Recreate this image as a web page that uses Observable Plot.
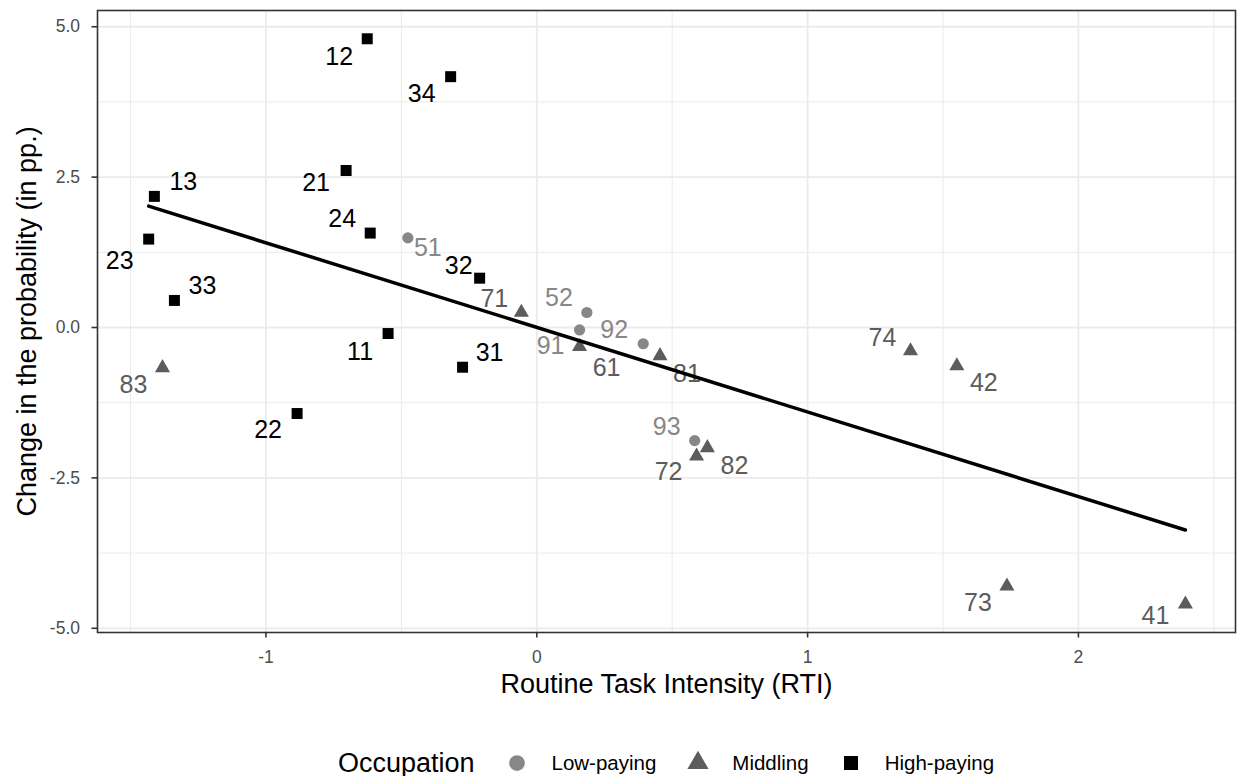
<!DOCTYPE html>
<html>
<head>
<meta charset="utf-8">
<script src="https://cdn.jsdelivr.net/npm/d3@7"></script>
<script src="https://cdn.jsdelivr.net/npm/@observablehq/plot@0.6"></script>
<style>
  body { margin: 0; background: #ffffff; font-family: "Liberation Sans", Arial, sans-serif; }
  #chart { position: relative; width: 1238px; height: 776px; background: #ffffff; }
  #legend {
    position: absolute; left: 97px; top: 740px; width: 1138px; height: 46px;
    display: flex; align-items: center; justify-content: center;
    font-family: "Liberation Sans", Arial, sans-serif; color: #000;
  }
  #legend .legend-title { font-size: 27px; margin-right: 33px; }
  #legend .occ-swatches { font-family: "Liberation Sans", Arial, sans-serif; font-size: 20.5px; margin: 0; min-height: 0; color: #000; }
  #legend .occ-swatch { margin-right: 32px; }
  #legend .occ-swatch:last-child { margin-right: 0; }
  #legend .occ-swatch > svg { margin-right: 24px; }
</style>
</head>
<body>
<div id="chart"></div>
<script>
// Occupation codes (ISCO 2-digit), their routine task intensity and the change in probability
const codes = ["11", "12", "13", "21", "22", "23", "24", "31", "32", "33", "34",
               "51", "52", "91", "92", "93",
               "61", "71", "72", "73", "74", "81", "82", "83", "41", "42"];
const rti = [-0.549, -0.626, -1.412, -0.704, -0.885, -1.433, -0.615, -0.274, -0.211, -1.338, -0.318,
             -0.476, 0.185, 0.158, 0.393, 0.583,
             0.158, -0.057, 0.590, 1.736, 1.380, 0.455, 0.630, -1.382, 2.395, 1.551];
const change = [-0.10, 4.80, 2.18, 2.61, -1.43, 1.47, 1.57, -0.66, 0.82, 0.45, 4.17,
                1.49, 0.25, -0.04, -0.27, -1.88,
                -0.32, 0.25, -2.14, -4.30, -0.39, -0.47, -2.00, -0.67, -4.60, -0.64];
const occupation = ["High-paying", "High-paying", "High-paying", "High-paying", "High-paying", "High-paying",
                    "High-paying", "High-paying", "High-paying", "High-paying", "High-paying",
                    "Low-paying", "Low-paying", "Low-paying", "Low-paying", "Low-paying",
                    "Middling", "Middling", "Middling", "Middling", "Middling", "Middling", "Middling",
                    "Middling", "Middling", "Middling"];

// Legend order and axis ticks
const groups = ["Low-paying", "Middling", "High-paying"];
const xTicks = [-1, 0, 1, 2];
const yTicks = [-5, -2.5, 0, 2.5, 5];
const xMinor = [-1.5, -0.5, 0.5, 1.5, 2.5];
const yMinor = [-3.75, -1.25, 1.25, 3.75];

// Appearance per group
const groupColors = ["#878787", "#5c5c5c", "#000000"];
const groupSymbols = ["circle", "triangle", "square"];
const groupRadius = {"Low-paying": 5.6, "Middling": 5.6, "High-paying": 6.2};

// Label placement (pixel offset of each code label from its point)
const labelShift = {
  "11": [-28, 18], "12": [-28, 18], "13": [29, -14], "21": [-30, 12], "22": [-29, 16],
  "23": [-29, 22], "24": [-28, -14], "31": [27, -14], "32": [-21, -12], "33": [28, -14],
  "34": [-29, 17], "51": [20, 10], "52": [-28, -14], "91": [-29, 16], "92": [-29, -14],
  "93": [-28, -14], "61": [27, 21], "71": [-27, -13], "72": [-28, 16], "73": [-29, 17],
  "74": [-28, -13], "81": [27, 18], "82": [27, 18], "83": [-29, 17], "41": [-30, 12],
  "42": [27, 17]
};

const points = codes.map((code, i) => ({code, rti: rti[i], change: change[i], group: occupation[i]}));

const W = 1238, H = 712;
const fontFamily = "Liberation Sans, Arial, sans-serif";
const tickFont = 17.5;

const labelMarks = points.map((d) => Plot.text([d], {
  x: "rti", y: "change", text: "code", fill: "group",
  dx: labelShift[d.code][0], dy: labelShift[d.code][1],
  fontSize: 25, textAnchor: "middle", lineAnchor: "middle"
}));

const plot = Plot.plot({
  width: W,
  height: H,
  marginLeft: 97,
  marginRight: 3,
  marginTop: 10,
  marginBottom: H - 632,
  style: {fontFamily, background: "#ffffff", color: "#000"},
  x: {domain: [-1.622, 2.58]},
  y: {domain: [-5.07, 5.27]},
  color: {domain: groups, range: groupColors},
  symbol: {domain: groups, range: groupSymbols},
  r: {type: "identity"},
  marks: [
    // panel grid: minor lines thinner than major ones
    Plot.gridX(xMinor, {stroke: "#ebebeb", strokeOpacity: 1, strokeWidth: 1}),
    Plot.gridY(yMinor, {stroke: "#ebebeb", strokeOpacity: 1, strokeWidth: 1}),
    Plot.gridX(xTicks, {stroke: "#ebebeb", strokeOpacity: 1, strokeWidth: 1.8}),
    Plot.gridY(yTicks, {stroke: "#ebebeb", strokeOpacity: 1, strokeWidth: 1.8}),
    // tick marks
    Plot.axisX(xTicks, {
      anchor: "bottom", label: null, tickSize: 5.5,
      stroke: "#333333", strokeWidth: 1.6, tickFormat: () => ""
    }),
    Plot.axisY(yTicks, {
      anchor: "left", label: null, tickSize: 5.5,
      stroke: "#333333", strokeWidth: 1.6, tickFormat: () => ""
    }),
    // tick labels
    Plot.text(xTicks, {
      x: (d) => d, text: (d) => String(d), frameAnchor: "bottom", dy: 18,
      textAnchor: "middle", lineAnchor: "top", fill: "#4d4d4d", fontSize: tickFont
    }),
    Plot.text(yTicks, {
      y: (d) => d, text: (d) => d.toFixed(1), frameAnchor: "left", dx: -17.5,
      textAnchor: "end", lineAnchor: "middle", fill: "#4d4d4d", fontSize: tickFont
    }),
    Plot.dot(points, {
      x: "rti", y: "change", fill: "group", symbol: "group",
      r: (d) => groupRadius[d.group]
    }),
    ...labelMarks,
    Plot.linearRegressionY(points, {x: "rti", y: "change", stroke: "#000000", strokeWidth: 3.5, ci: 0}),
    Plot.frame({stroke: "#333333", strokeWidth: 1.6}),
    Plot.text(["Routine Task Intensity (RTI)"], {
      frameAnchor: "bottom", dy: 52, fontSize: 27, fill: "#000",
      textAnchor: "middle", lineAnchor: "middle"
    }),
    Plot.text(["Change in the probability (in pp.)"], {
      frameAnchor: "left", dx: -70, rotate: -90, fontSize: 27, fill: "#000",
      textAnchor: "middle", lineAnchor: "middle"
    })
  ]
});

const chart = document.getElementById("chart");
chart.appendChild(plot);

// Legend below the panel: title followed by the symbol swatches
const legend = document.createElement("div");
legend.id = "legend";
const title = document.createElement("span");
title.className = "legend-title";
title.textContent = "Occupation";
legend.appendChild(title);
const swatches = plot.legend("symbol", {r: 6.3, swatchSize: 20, className: "occ"});
if (swatches) legend.appendChild(swatches);
chart.appendChild(legend);
</script>
</body>
</html>
